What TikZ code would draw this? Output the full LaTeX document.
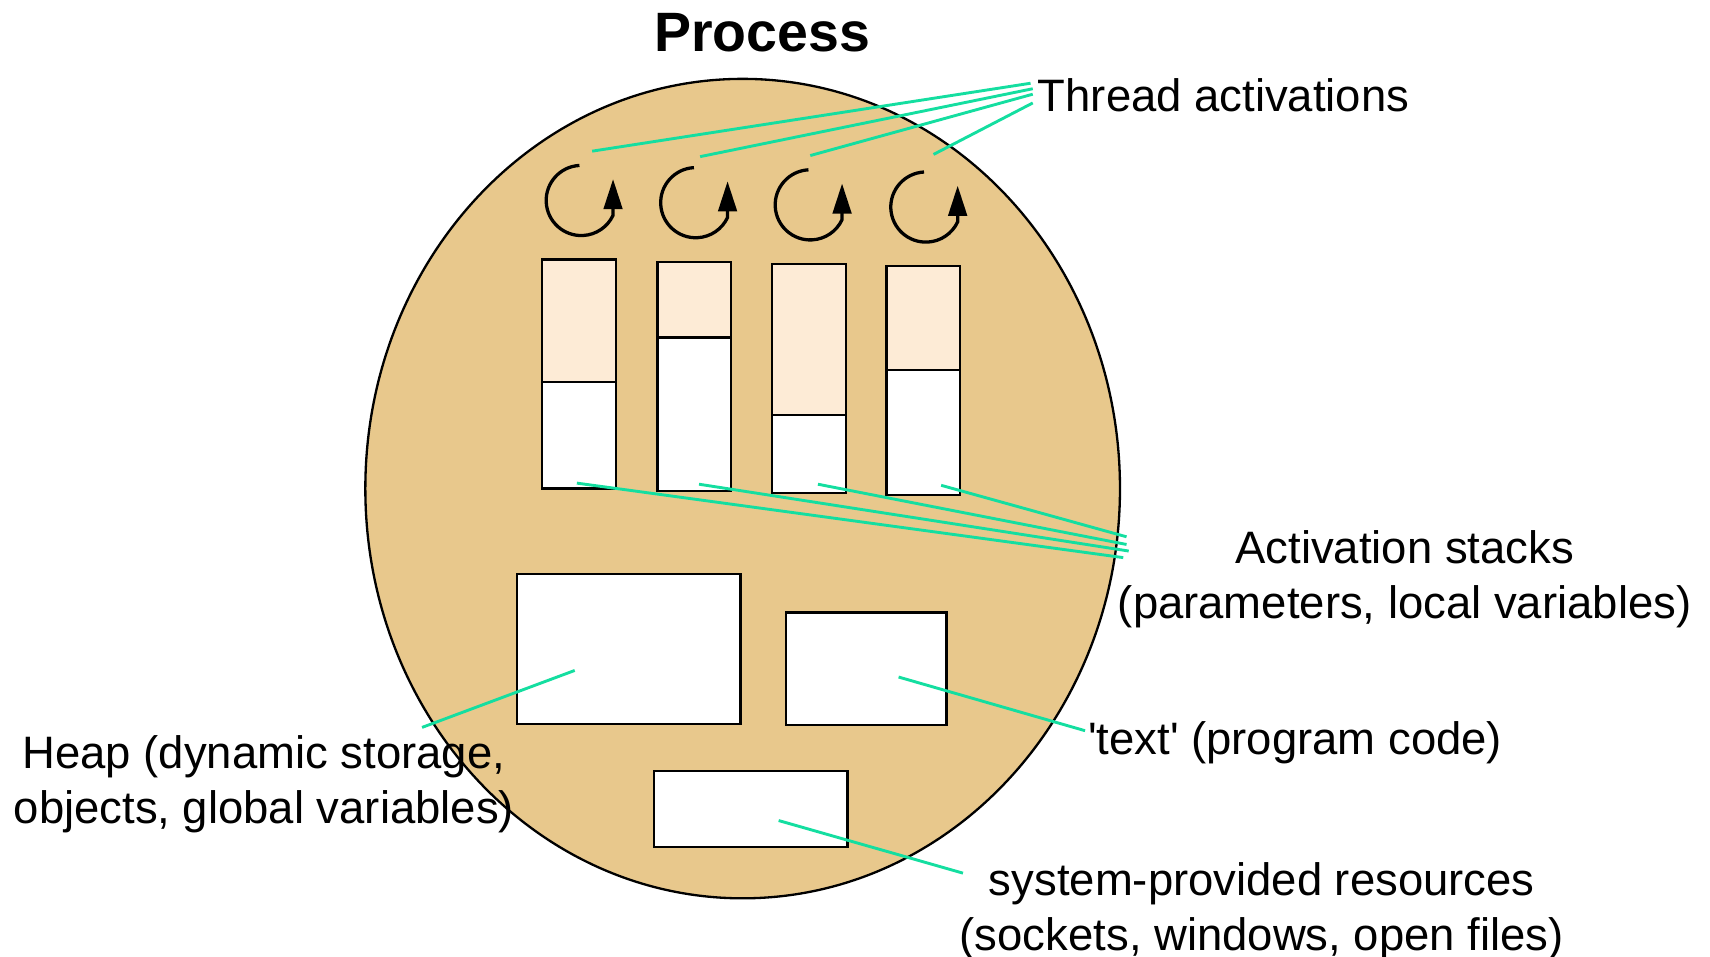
\documentclass[tikz,border=0pt]{standalone}
\usepackage{fontspec}
\setmainfont{Liberation Sans}
\usetikzlibrary{arrows.meta,positioning}

\definecolor{procfill}{RGB}{232,200,140}
\definecolor{stackfill}{RGB}{253,235,214}
\definecolor{callout}{RGB}{20,222,160}

\tikzset{
  lbl/.style={font=\fontsize{11.8}{14.2}\selectfont, align=center, inner sep=0pt},
  pointer/.style={callout, line width=0.75pt},
  box/.style={draw, line width=0.6pt},
  loopy/.style={line width=0.85pt, -{Triangle[length=7.8pt,width=4.8pt]}}
}

\begin{document}
\begin{tikzpicture}[x=0.00995cm,y=0.01cm]
\useasboundingbox (0,0) rectangle (15.6cm,-8.73cm);

%% the process itself
\draw[fill=procfill, line width=0.6pt] (681,-446) ellipse [x radius=346, y radius=374];
\node[font=\bfseries\fontsize{14.4}{17}\selectfont] (title) at (699,-30) {Process};

%% thread activations (loops) and their stacks
\foreach \n/\cx/\cy/\l/\r/\t/\m/\b in {1/533/183/497/565/237/349/446,
                                        2/638/185/603/670/239/308/448,
                                        3/743/187/708/776/241/379/450,
                                        4/849/189/813/880/243/338/452}{
	\draw[loopy] (\cx,-\cy) ++(93:0.32cm) arc[start angle=93, end angle=335, radius=0.32cm] -- ++(0,33);
	\draw[box, fill=stackfill] (\l,-\t) rectangle (\r,-\m);
	\draw[box, fill=white] (\l,-\m) rectangle (\r,-\b);
}

%% memory areas
\draw[box, fill=white] (474,-524) rectangle (679,-661);
\draw[box, fill=white] (721,-559) rectangle (868,-662);
\draw[box, fill=white] (600,-704) rectangle (777,-773);

%% labels
\node[lbl, anchor=west] (threads) at (951,-87) {Thread activations};
\node[lbl] (stacks) at (1288,-529) {Activation stacks\\(parameters, local variables)};
\node[lbl] (heap) at (242,-716) {Heap (dynamic storage,\\objects, global variables)};
\node[lbl, anchor=west] (code) at (997,-678) {\textquotesingle text\textquotesingle{} (program code)};
\node[lbl] (sysres) at (1157,-832) {system-provided resources\\(sockets, windows, open files)};

%% callout ends
\coordinate (t1) at (543,-138); \coordinate (t1e) at (945,-76);
\coordinate (t2) at (642,-143); \coordinate (t2e) at (947,-81);
\coordinate (t3) at (743,-142); \coordinate (t3e) at (947,-86);
\coordinate (t4) at (856,-141); \coordinate (t4e) at (947,-94);
\coordinate (s1) at (529,-441); \coordinate (s1e) at (1030,-509);
\coordinate (s2) at (641,-442); \coordinate (s2e) at (1035,-503);
\coordinate (s3) at (750,-442); \coordinate (s3e) at (1033,-497);
\coordinate (s4) at (863,-443); \coordinate (s4e) at (1033,-490);
\coordinate (h1) at (527,-612); \coordinate (h1e) at (387,-664);
\coordinate (c1) at (824,-618); \coordinate (c1e) at (995,-667);
\coordinate (r1) at (714,-749); \coordinate (r1e) at (883,-797);

\foreach \a in {t1,t2,t3,t4,s1,s2,s3,s4,h1,c1,r1}{
	\draw[pointer] (\a) -- (\a e);
}
\end{tikzpicture}
\end{document}
